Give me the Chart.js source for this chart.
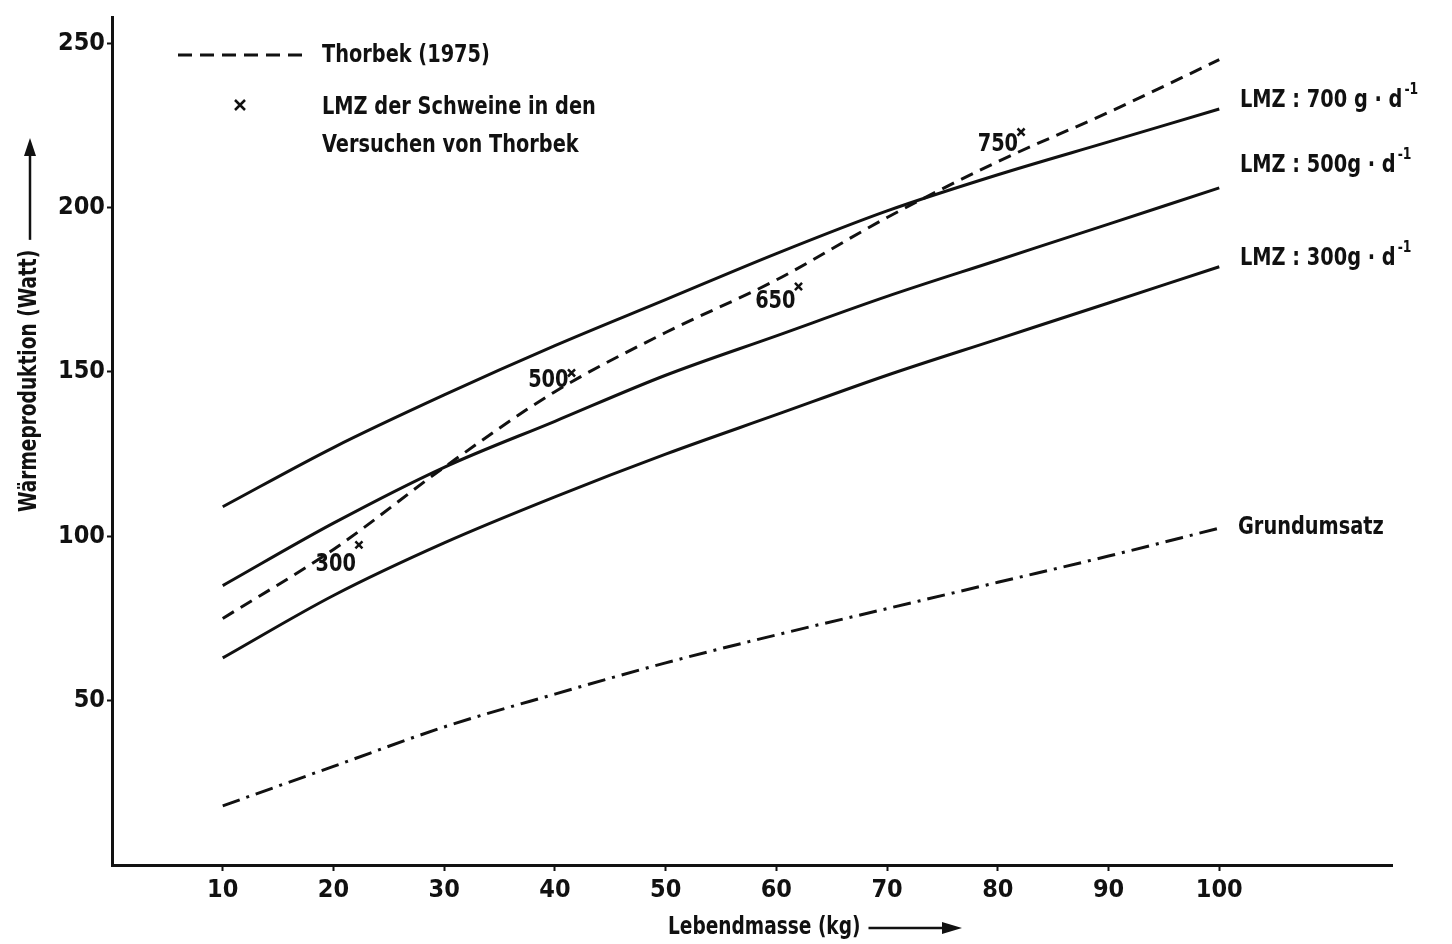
<!DOCTYPE html>
<html>
<head>
<meta charset="utf-8">
<script src="https://cdn.jsdelivr.net/npm/chart.js@4"></script>
<style>
  body { margin: 0; background: #fff; }
  #wrap { width: 1452px; height: 944px; }
</style>
</head>
<body>
<div id="wrap"><canvas id="myChart" width="1452" height="944"></canvas></div>
<script>
// Lebendmasse (kg)
const massKg = [10, 20, 30, 40, 50, 60, 70, 80, 90, 100];

// Wärmeproduktion (Watt)
const lmz700 = [109, 127, 143, 158, 172, 186, 199, 210, 220, 230];
const lmz500 = [85, 104, 121, 135, 149, 161, 173, 184, 195, 206];
const lmz300 = [63, 82, 98, 112, 125, 137, 149, 160, 171, 182];
const grundumsatz = [18, 30, 42, 52, 61.5, 70, 78, 86, 94, 102.5];
const thorbek = [75, 96, 121, 144, 162, 178, 197, 214, 229, 245];

// LMZ der Schweine in den Versuchen von Thorbek (marks beside the dashed line)
const trialLmz = ['300', '500', '650', '750'];
const trialMass = [22.3, 41.5, 62, 82.1];
const trialHeat = [97.4, 149.7, 176, 223];

const yTicks = [50, 100, 150, 200, 250];
const xTicks = [10, 20, 30, 40, 50, 60, 70, 80, 90, 100];

const FONT = '"Liberation Sans Narrow", "DejaVu Sans Condensed", "DejaVu Sans", sans-serif';
const INK = '#111';
const NARROW = 0.86;

function pts(ys) {
  return massKg.map((x, i) => ({ x: x, y: ys[i] }));
}

// condensed text, returns drawn width
function text(c, s, x, y, align) {
  c.save();
  c.translate(x, y);
  c.scale(NARROW, 1);
  c.textAlign = align || 'left';
  c.fillText(s, 0, 0);
  const w = c.measureText(s).width * NARROW;
  c.restore();
  return w;
}

const curveStyle = {
  borderColor: INK,
  borderWidth: 3,
  pointRadius: 0,
  fill: false,
  cubicInterpolationMode: 'monotone'
};

const annotations = {
  id: 'annotations',
  beforeDraw(chart) {
    const c = chart.ctx;
    c.save();
    c.fillStyle = '#fff';
    c.fillRect(0, 0, chart.width, chart.height);
    c.restore();
  },
  afterDraw(chart) {
    const c = chart.ctx;
    const xs = chart.scales.x, ys = chart.scales.y;
    c.save();
    c.fillStyle = INK;
    c.strokeStyle = INK;
    c.textBaseline = 'middle';

    // legend
    c.lineWidth = 3;
    c.setLineDash([14, 8]);
    c.beginPath(); c.moveTo(178, 55); c.lineTo(306, 55); c.stroke();
    c.setLineDash([]);
    c.font = 'bold 25px ' + FONT;
    text(c, 'Thorbek (1975)', 322, 55);
    c.lineWidth = 2.5;
    c.beginPath();
    c.moveTo(235, 100); c.lineTo(245, 110);
    c.moveTo(245, 100); c.lineTo(235, 110);
    c.stroke();
    text(c, 'LMZ der Schweine in den', 322, 107);
    text(c, 'Versuchen von Thorbek', 322, 145);

    // numbers next to the trial marks
    const dy = [20, 8, 15, 12];
    trialLmz.forEach((t, i) => {
      const px = xs.getPixelForValue(trialMass[i]);
      const py = ys.getPixelForValue(trialHeat[i]);
      text(c, t, px - 3, py + dy[i], 'right');
    });

    // curve labels on the right
    const lmzLabels = [['700 g', 100], ['500g', 165], ['300g', 258]];
    lmzLabels.forEach(([v, y]) => {
      c.font = 'bold 25px ' + FONT;
      const w = text(c, 'LMZ : ' + v + ' · d', 1240, y);
      c.font = 'bold 16px ' + FONT;
      text(c, '-1', 1242 + w, y - 10);
    });
    c.font = 'bold 25px ' + FONT;
    text(c, 'Grundumsatz', 1238, 527);

    // y axis title with arrow
    c.save();
    c.translate(30, 512);
    c.rotate(-Math.PI / 2);
    c.font = 'bold 24px ' + FONT;
    const tw = text(c, 'Wärmeproduktion (Watt)', 0, 0);
    c.lineWidth = 2.5;
    c.beginPath(); c.moveTo(tw + 10, 0); c.lineTo(362, 0); c.stroke();
    c.beginPath(); c.moveTo(374, 0); c.lineTo(356, -6); c.lineTo(356, 6); c.closePath(); c.fill();
    c.restore();

    // x axis title with arrow
    c.font = 'bold 24px ' + FONT;
    const xw = text(c, 'Lebendmasse (kg)', 668, 928);
    c.lineWidth = 2.5;
    c.beginPath(); c.moveTo(668 + xw + 8, 928); c.lineTo(945, 928); c.stroke();
    c.beginPath(); c.moveTo(962, 928); c.lineTo(942, 922); c.lineTo(942, 934); c.closePath(); c.fill();
    c.restore();
  }
};

const ctx = document.getElementById('myChart').getContext('2d');
const chart = new Chart(ctx, {
  type: 'line',
  data: {
    datasets: [
      Object.assign({ label: 'LMZ 700', data: pts(lmz700) }, curveStyle),
      Object.assign({ label: 'LMZ 500', data: pts(lmz500) }, curveStyle),
      Object.assign({ label: 'LMZ 300', data: pts(lmz300) }, curveStyle),
      Object.assign({ label: 'Grundumsatz', data: pts(grundumsatz), borderDash: [18, 7, 3, 7] }, curveStyle),
      Object.assign({ label: 'Thorbek (1975)', data: pts(thorbek), borderDash: [13, 8] }, curveStyle),
      {
        type: 'scatter',
        label: 'LMZ Thorbek',
        data: trialMass.map((x, i) => ({ x: x, y: trialHeat[i] })),
        pointStyle: 'crossRot',
        pointRadius: 5,
        pointBorderWidth: 2.5,
        borderColor: INK,
        backgroundColor: INK
      }
    ]
  },
  options: {
    responsive: false,
    animation: false,
    devicePixelRatio: 1,
    layout: { padding: { top: 12, right: 60, left: 0, bottom: 0 } },
    plugins: { legend: { display: false }, tooltip: { enabled: false } },
    scales: {
      x: {
        type: 'linear',
        min: 0,
        max: 115.6,
        afterBuildTicks(scale) { scale.ticks = xTicks.map(v => ({ value: v })); },
        afterFit(scale) { scale.height = 79; },
        ticks: { color: INK, font: { family: FONT, size: 25, weight: 'bold' }, padding: 4, maxRotation: 0 },
        grid: { drawOnChartArea: false, tickLength: 6, tickWidth: 2, color: INK },
        border: { display: true, color: INK, width: 3 }
      },
      y: {
        min: 0,
        max: 258,
        afterBuildTicks(scale) { scale.ticks = yTicks.map(v => ({ value: v })); },
        afterFit(scale) { scale.width = 112; },
        ticks: { color: INK, font: { family: FONT, size: 25, weight: 'bold' }, padding: 2 },
        grid: { drawOnChartArea: false, tickLength: 5, tickWidth: 2, color: INK },
        border: { display: true, color: INK, width: 3 }
      }
    }
  },
  plugins: [annotations]
});
</script>
</body>
</html>
